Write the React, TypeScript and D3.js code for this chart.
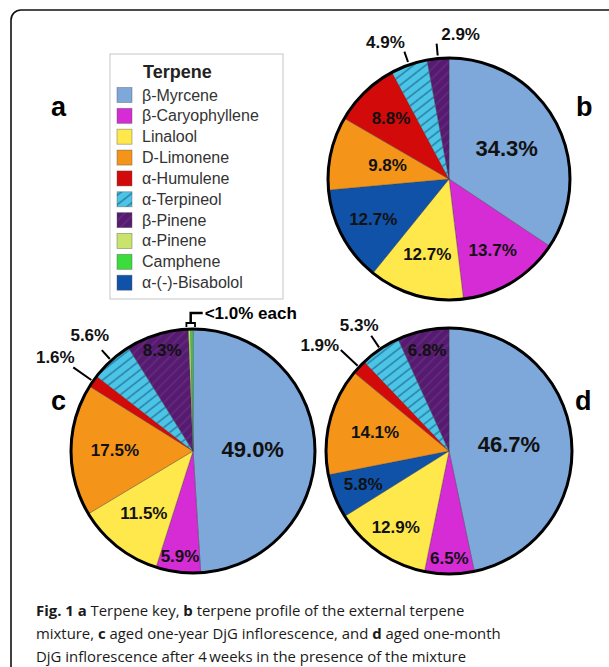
import React from 'react';
import * as d3 from 'd3';

const W = 609;
const H = 667;
const FONT = "'Liberation Sans', Arial, Helvetica, sans-serif";
const CAPTION_FONT = "'Open Sans', 'Noto Sans', sans-serif";

// Legend order (key "a")
const legendTerpenes = ['β-Myrcene', 'β-Caryophyllene', 'Linalool', 'D-Limonene', 'α-Humulene', 'α-Terpineol', 'β-Pinene', 'α-Pinene', 'Camphene', 'α-(-)-Bisabolol'];
const terpeneColors = ['#7ea7da', '#d52cd6', '#ffe84c', '#f4951a', '#d30a0a', 'url(#hatchCyan)', 'url(#hatchPurple)', '#c9e46d', '#3ddc3d', '#0f52a8'];

// Slice order inside each pie (clockwise from 12 o'clock)
const pieOrder = ['β-Myrcene', 'β-Caryophyllene', 'Linalool', 'α-(-)-Bisabolol', 'D-Limonene', 'α-Humulene', 'α-Terpineol', 'β-Pinene', 'α-Pinene', 'Camphene'];
const valuesB = [34.3, 13.7, 12.7, 12.7, 9.8, 8.8, 4.9, 2.9, 0, 0];
const valuesC = [49.0, 5.9, 11.5, 0, 17.5, 1.6, 5.6, 8.3, 0.3, 0.3];
const valuesD = [46.7, 6.5, 12.9, 5.8, 14.1, 1.9, 5.3, 6.8, 0, 0];
const labelsB = ['34.3%', '13.7%', '12.7%', '12.7%', '9.8%', '8.8%', '4.9%', '2.9%', '', ''];
const labelsC = ['49.0%', '5.9%', '11.5%', '', '17.5%', '1.6%', '5.6%', '8.3%', '', ''];
const labelsD = ['46.7%', '6.5%', '12.9%', '5.8%', '14.1%', '1.9%', '5.3%', '6.8%', '', ''];
const groupLabelC = '<1.0% each';

const captionLines = [
  [['Fig. 1 ', true], ['a', true], [' Terpene key, ', false], ['b', true], [' terpene profile of the external terpene', false]],
  [['mixture, ', false], ['c', true], [' aged one-year DjG inflorescence, and ', false], ['d', true], [' aged one-month', false]],
  [['DjG inflorescence after 4\u2009weeks in the presence of the mixture', false]],
];

// layout for labels (style, not data)
type LabelLayout = { mode: 'in'; k: number; size: number } | { mode: 'out'; r0: number; r1: number; dx: number; dy: number; size: number } | null;

const layoutB: LabelLayout[] = [
  { mode: 'in', k: 0.54, size: 22 },
  { mode: 'in', k: 0.69, size: 17 },
  { mode: 'in', k: 0.65, size: 17 },
  { mode: 'in', k: 0.71, size: 17 },
  { mode: 'in', k: 0.52, size: 17 },
  { mode: 'in', k: 0.69, size: 17 },
  { mode: 'out', r0: 3, r1: 14, dx: -19, dy: -9, size: 17 },
  { mode: 'out', r0: 3, r1: 15, dx: 24, dy: -9, size: 17 },
  null, null,
];
const layoutC: LabelLayout[] = [
  { mode: 'in', k: 0.49, size: 22 },
  { mode: 'in', k: 0.87, size: 17 },
  { mode: 'in', k: 0.65, size: 17 },
  null,
  { mode: 'in', k: 0.64, size: 17 },
  { mode: 'out', r0: 2, r1: 24, dx: -18, dy: -10, size: 17 },
  { mode: 'out', r0: 2, r1: 14, dx: -12, dy: -15, size: 17 },
  { mode: 'in', k: 0.86, size: 17 },
  null, null,
];
const layoutD: LabelLayout[] = [
  { mode: 'in', k: 0.49, size: 22 },
  { mode: 'in', k: 0.87, size: 17 },
  { mode: 'in', k: 0.76, size: 17 },
  { mode: 'in', k: 0.75, size: 17 },
  { mode: 'in', k: 0.62, size: 17 },
  { mode: 'out', r0: 2, r1: 25, dx: -21, dy: -5, size: 17 },
  { mode: 'out', r0: 2, r1: 16, dx: -12, dy: -10, size: 17 },
  { mode: 'in', k: 0.84, size: 17 },
  null, null,
];

const colorOf = (name: string) => terpeneColors[legendTerpenes.indexOf(name)];
const pt = (a: number, R: number): [number, number] => [R * Math.sin(a), -R * Math.cos(a)];

function Pie({ values, labels, layout, cx, cy, r, group }: any) {
  const arcs = d3.pie<number>().sort(null).value((d) => d)(values);
  const arcGen = d3.arc<d3.PieArcDatum<number>>().innerRadius(0).outerRadius(r);
  let groupEl: any = null;
  if (group) {
    const a0 = arcs[group.from].startAngle;
    const a1 = arcs[group.to].endAngle;
    const [x0] = pt(a0, r);
    const [x1] = pt(a1, r);
    const left = Math.min(x0, x1) - 2;
    const right = Math.max(x0, x1) + 2;
    const top = -r - 6;
    const bot = -r - 2;
    const mid = (left + right) / 2;
    groupEl = (
      <g>
        <path d={`M${left},${bot}V${top}H${right}V${bot}`} fill="none" stroke="#000" strokeWidth={1.8} />
        <path d={`M${mid},${top}V${top - 10}H${mid + 12}`} fill="none" stroke="#000" strokeWidth={2.5} />
        <text x={mid + 14} y={top - 10} dominantBaseline="central" fontFamily={FONT} fontWeight="bold" fontSize={17}>{group.text}</text>
      </g>
    );
  }
  return (
    <g transform={`translate(${cx},${cy})`}>
      {arcs.map((a, i) => (a.value > 0 ? (
        <path key={i} d={arcGen(a) || ''} fill={colorOf(pieOrder[i])} stroke="rgba(60,60,60,0.45)" strokeWidth={0.8} />
      ) : null))}
      <circle r={r} fill="none" stroke="#000" strokeWidth={3} />
      {arcs.map((a, i) => {
        const L = layout[i];
        if (!L || !labels[i]) return null;
        const m = (a.startAngle + a.endAngle) / 2;
        if (L.mode === 'in') {
          const [x, y] = pt(m, r * L.k);
          return <text key={'l' + i} x={x} y={y} textAnchor="middle" dominantBaseline="central" fontFamily={FONT} fontWeight="bold" fontSize={L.size} fill="#111">{labels[i]}</text>;
        }
        const [x0, y0] = pt(m, r + L.r0);
        const [x1, y1] = pt(m, r + L.r1);
        return (
          <g key={'l' + i}>
            <line x1={x0} y1={y0} x2={x1} y2={y1} stroke="#000" strokeWidth={2} />
            <text x={x1 + L.dx} y={y1 + L.dy} textAnchor="middle" dominantBaseline="central" fontFamily={FONT} fontWeight="bold" fontSize={L.size} fill="#111">{labels[i]}</text>
          </g>
        );
      })}
      {groupEl}
    </g>
  );
}

export default function App() {
  const legendX = 110, legendY = 54;
  const rowY = d3.scaleLinear().domain([0, legendTerpenes.length - 1]).range([95, 282.7]);
  return (
    <svg width={W} height={H} style={{ position: 'absolute', left: 0, top: 0, background: '#fff' }}>
      <defs>
        <pattern id="hatchCyan" patternUnits="userSpaceOnUse" width={7.5} height={7.5} patternTransform="rotate(-38)">
          <rect width={7.5} height={7.5} fill="#4cc4e6" />
          <line x1={0} y1={1} x2={7.5} y2={1} stroke="#2a83a8" strokeWidth={1.6} />
        </pattern>
        <pattern id="hatchPurple" patternUnits="userSpaceOnUse" width={7} height={7} patternTransform="rotate(-45)">
          <rect width={7} height={7} fill="#561b70" />
          <line x1={0} y1={1} x2={7} y2={1} stroke="#6a3585" strokeWidth={1} />
        </pattern>
      </defs>
      <rect x={0} y={0} width={W} height={H} fill="#fff" />
      <rect x={11} y={10} width={640} height={720} rx={10} fill="none" stroke="#111" strokeWidth={1.6} />

      {/* legend */}
      <rect x={legendX} y={legendY} width={173} height={245} fill="#fff" stroke="#cfcfcf" strokeWidth={1.2} />
      <text x={143} y={78} fontFamily={FONT} fontWeight="bold" fontSize={18} fill="#222">Terpene</text>
      {legendTerpenes.map((t, i) => (
        <g key={t}>
          <rect x={117} y={rowY(i) - 7.5} width={15} height={15} fill={terpeneColors[i]} stroke="rgba(80,80,80,0.5)" strokeWidth={0.8} />
          <text x={142} y={rowY(i) + 5.5} fontFamily={FONT} fontSize={16} fill="#333">{t}</text>
        </g>
      ))}

      {/* panel letters */}
      <text x={51} y={116} fontFamily={FONT} fontWeight="bold" fontSize={27}>a</text>
      <text x={576} y={116} fontFamily={FONT} fontWeight="bold" fontSize={27}>b</text>
      <text x={51} y={410} fontFamily={FONT} fontWeight="bold" fontSize={27}>c</text>
      <text x={575} y={410} fontFamily={FONT} fontWeight="bold" fontSize={27}>d</text>

      <Pie values={valuesB} labels={labelsB} layout={layoutB} cx={449} cy={179} r={121} />
      <Pie values={valuesC} labels={labelsC} layout={layoutC} cx={193} cy={451} r={122} group={{ from: 8, to: 9, text: groupLabelC }} />
      <Pie values={valuesD} labels={labelsD} layout={layoutD} cx={449} cy={451} r={123} />

      {/* caption */}
      {captionLines.map((line, li) => (
        <text key={li} x={36} y={616 + li * 23} fontFamily={CAPTION_FONT} fontSize={14.9} fill="#1a1a1a">
          {line.map(([s, b], j) => (
            <tspan key={j} fontWeight={b ? 'bold' : 'normal'}>{s as string}</tspan>
          ))}
        </text>
      ))}
    </svg>
  );
}
